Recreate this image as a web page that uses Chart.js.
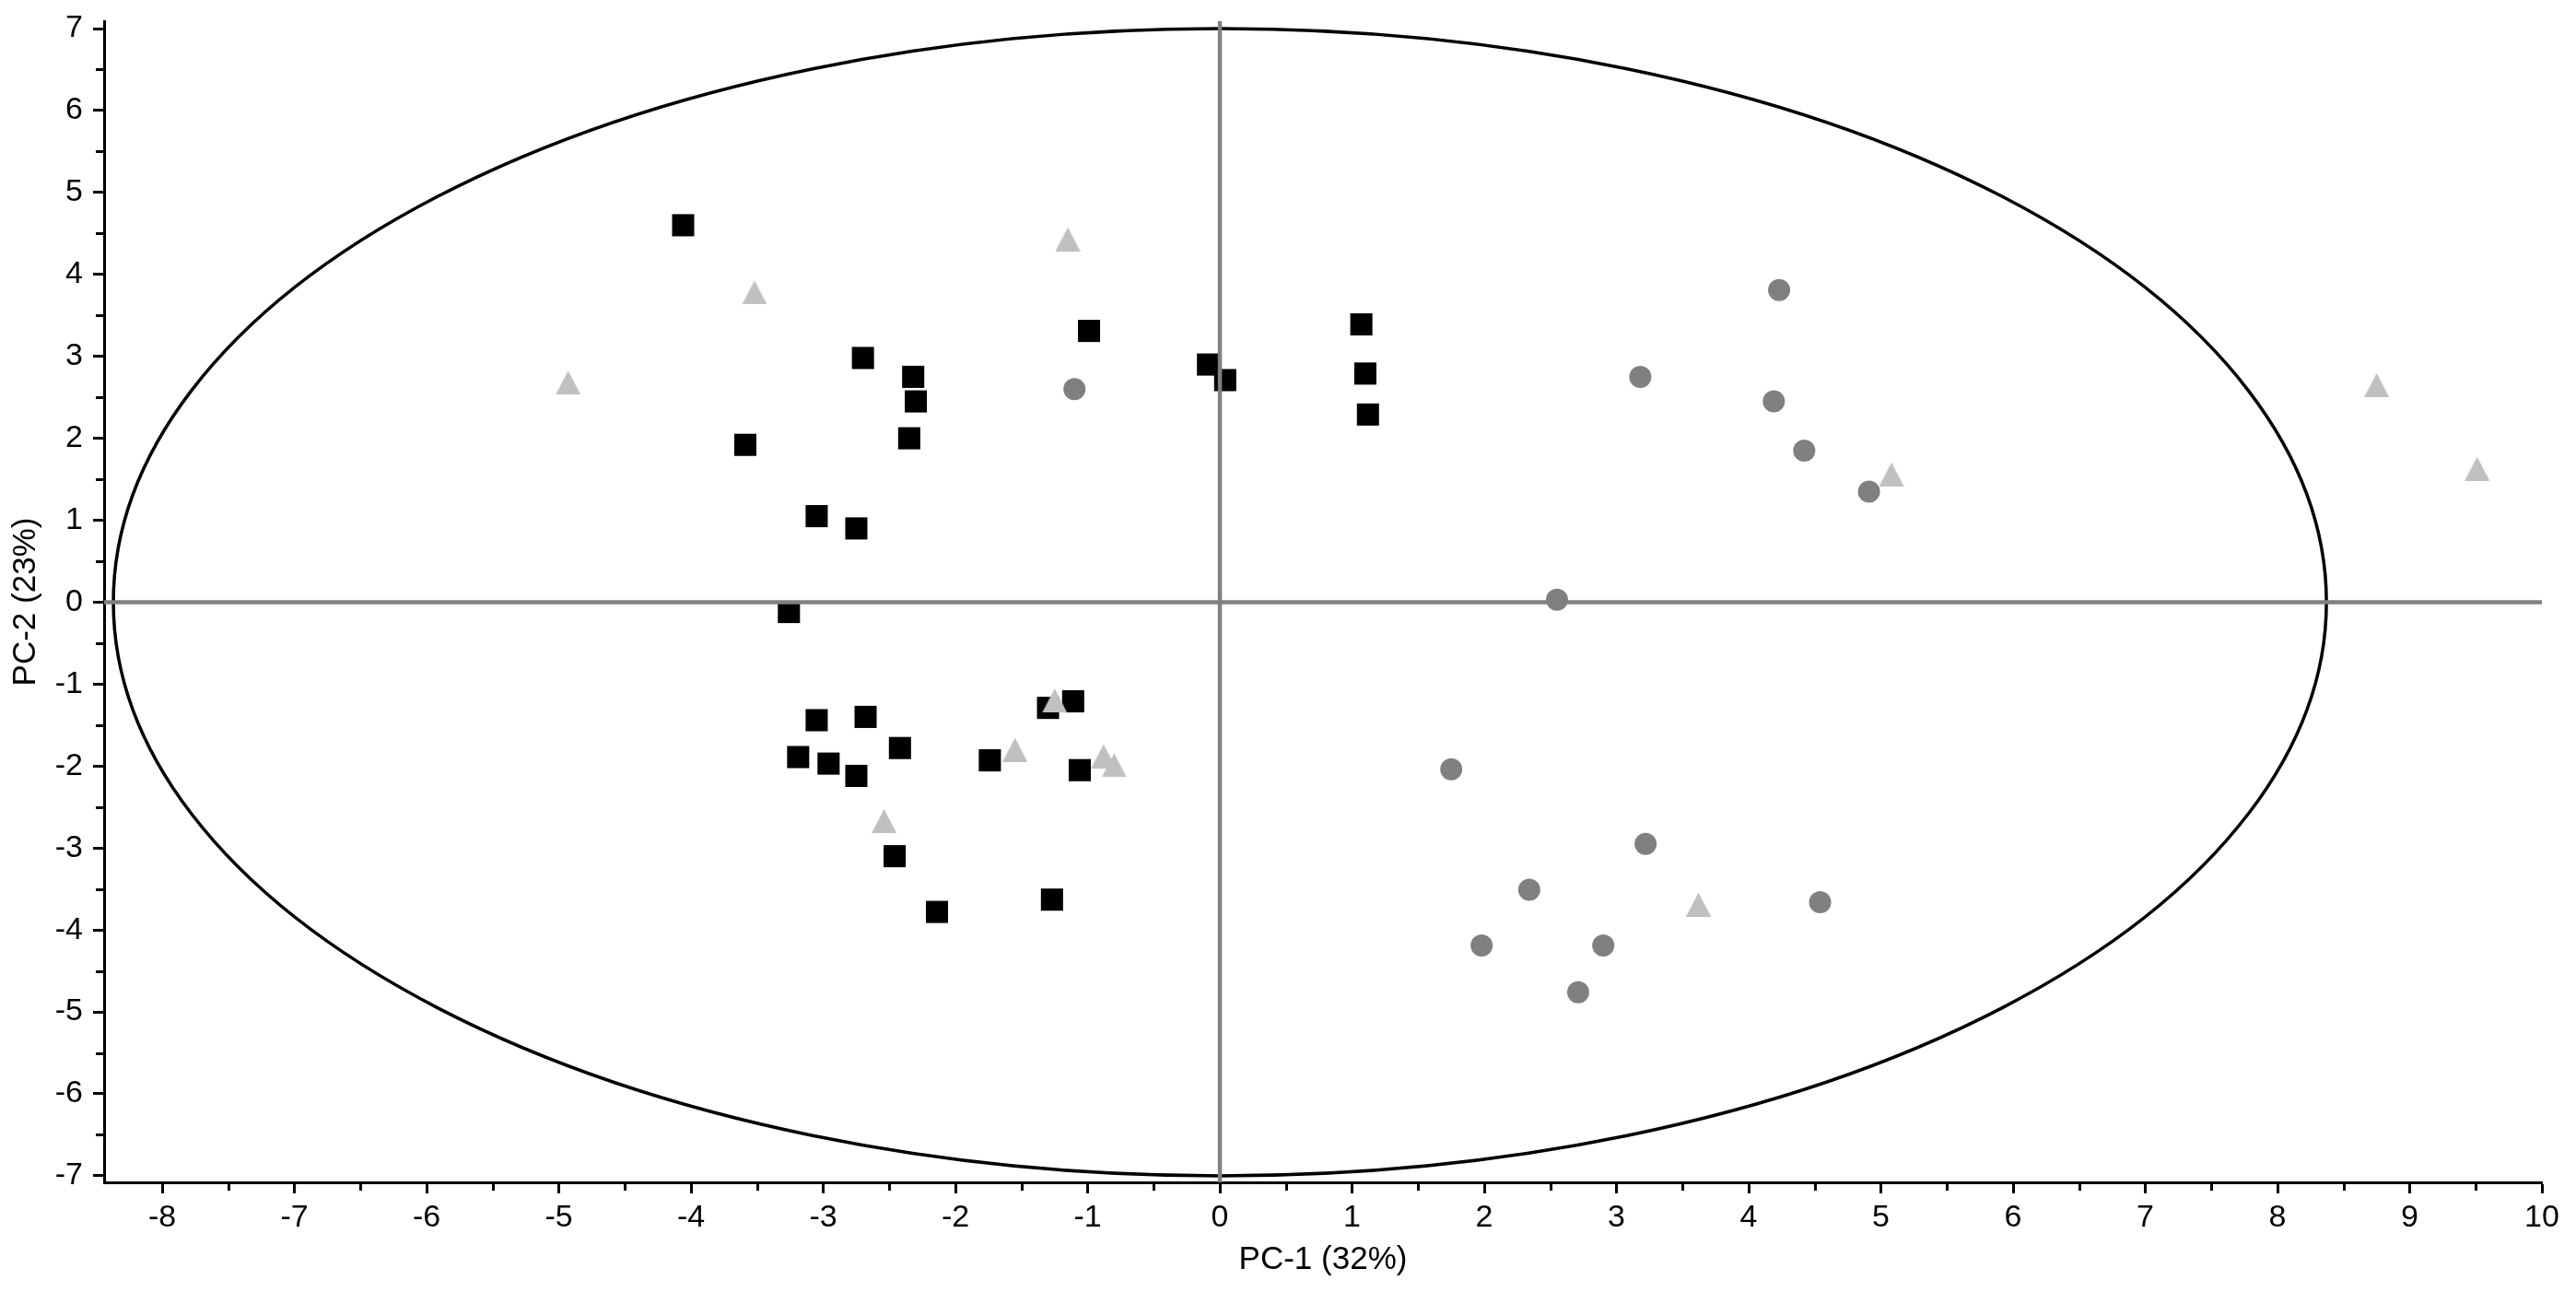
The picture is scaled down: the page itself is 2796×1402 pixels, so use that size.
<!DOCTYPE html>
<html>
<head>
<meta charset="utf-8">
<script src="https://cdn.jsdelivr.net/npm/chart.js@4.4.1/dist/chart.umd.min.js"></script>
<style>
  html, body { margin: 0; padding: 0; background: #fff; }
  #pcaChart { display: block; }
</style>
</head>
<body>
<canvas id="pcaChart" width="2796" height="1402"></canvas>
<script>
// PCA scores
const squareX = [-4.06, -3.59, -3.05, -2.70, -2.75, -2.32, -2.30, -2.35, -0.99, -0.09, 0.04, 1.07, 1.10, 1.12,
                 -3.26, -3.05, -2.68, -3.19, -2.96, -2.75, -2.42, -2.46, -2.14, -1.74, -1.30, -1.11, -1.06, -1.27];
const squareY = [4.60, 1.92, 1.05, 2.98, 0.90, 2.75, 2.45, 2.00, 3.31, 2.90, 2.71, 3.39, 2.79, 2.29,
                 -0.12, -1.44, -1.40, -1.89, -1.97, -2.12, -1.78, -3.10, -3.78, -1.93, -1.29, -1.21, -2.05, -3.63];

const circleX = [-1.10, 3.18, 4.23, 4.19, 4.42, 4.91, 2.55, 1.75, 3.22, 2.34, 1.98, 2.90, 2.71, 4.54];
const circleY = [2.60, 2.75, 3.81, 2.45, 1.85, 1.35, 0.03, -2.04, -2.95, -3.51, -4.19, -4.19, -4.76, -3.66];

const triangleX = [-4.93, -3.52, -1.15, 8.75, 9.51, 5.08, -1.25, -1.55, -0.88, -0.80, -2.54, 3.62];
const triangleY = [2.68, 3.78, 4.43, 2.65, 1.63, 1.56, -1.20, -1.80, -1.88, -1.99, -2.67, -3.69];

const xTitle = "PC-1 (32%)";
const yTitle = "PC-2 (23%)";
const xMin = -8.44, xMax = 10;
const yMin = -7.08, yMax = 7.09;

// Hotelling T2 ellipse, semi axes
const ellipseA = 8.37;
const ellipseB = 7.0;

const fontFamily = "'Liberation Sans', Arial, sans-serif";

function toPoints(xs, ys) {
  return xs.map((x, i) => ({x: x, y: ys[i]}));
}

function triangleMarker() {
  const c = document.createElement("canvas");
  c.width = 27;
  c.height = 26;
  const g = c.getContext("2d");
  g.fillStyle = "#c0c0c0";
  g.beginPath();
  g.moveTo(13.5, 0);
  g.lineTo(27, 26);
  g.lineTo(0, 26);
  g.closePath();
  g.fill();
  return c;
}

// ellipse, zero lines and minor ticks
const extras = {
  id: "extras",
  afterDatasetsDraw(chart) {
    const {ctx, chartArea, scales: {x, y}} = chart;
    const cx = x.getPixelForValue(0), cy = y.getPixelForValue(0);
    ctx.save();
    ctx.strokeStyle = "#000";
    ctx.lineWidth = 3.5;
    ctx.beginPath();
    ctx.ellipse(cx, cy, x.getPixelForValue(ellipseA) - cx, cy - y.getPixelForValue(ellipseB), 0, 0, Math.PI * 2);
    ctx.stroke();

    ctx.strokeStyle = "#808080";
    ctx.lineWidth = 4.5;
    ctx.beginPath();
    ctx.moveTo(chartArea.left, cy);
    ctx.lineTo(chartArea.right, cy);
    ctx.moveTo(cx, chartArea.top);
    ctx.lineTo(cx, chartArea.bottom);
    ctx.stroke();
    ctx.restore();
  },
  afterDraw(chart) {
    const {ctx, chartArea, scales: {x, y}} = chart;
    ctx.save();
    ctx.strokeStyle = "#000";
    ctx.lineWidth = 3;
    ctx.beginPath();
    for (let v = Math.floor(xMin) + 0.5; v < xMax; v += 1) {
      if (v < xMin) continue;
      const px = Math.round(x.getPixelForValue(v)) + 0.5;
      ctx.moveTo(px, chartArea.bottom);
      ctx.lineTo(px, chartArea.bottom + 9);
    }
    for (let v = Math.floor(yMin) + 0.5; v < yMax; v += 1) {
      if (v < yMin) continue;
      const py = Math.round(y.getPixelForValue(v)) + 0.5;
      ctx.moveTo(chartArea.left, py);
      ctx.lineTo(chartArea.left - 9, py);
    }
    ctx.stroke();
    ctx.restore();
  }
};

const tickFont = {family: fontFamily, size: 34};
const titleFont = {family: fontFamily, size: 35};

new Chart(document.getElementById("pcaChart"), {
  type: "scatter",
  data: {
    datasets: [
      {
        data: toPoints(circleX, circleY),
        pointStyle: "circle",
        pointRadius: 12,
        backgroundColor: "#808080",
        borderWidth: 0
      },
      {
        data: toPoints(triangleX, triangleY),
        pointStyle: triangleMarker(),
        pointRadius: 13,
        backgroundColor: "#c0c0c0",
        borderWidth: 0
      },
      {
        data: toPoints(squareX, squareY),
        pointStyle: "rect",
        pointRadius: 17,
        backgroundColor: "#000",
        borderWidth: 0
      }
    ]
  },
  options: {
    responsive: false,
    animation: false,
    devicePixelRatio: 1,
    layout: {padding: {top: 23, right: 37, bottom: 0, left: 0}},
    plugins: {
      legend: {display: false},
      tooltip: {enabled: false}
    },
    scales: {
      x: {
        type: "linear",
        min: xMin,
        max: xMax,
        afterFit: s => { s.height = 119; s.paddingLeft = 0; s.paddingRight = 0; },
        ticks: {
          stepSize: 1, includeBounds: false, padding: 6, color: "#000",
          font: tickFont, maxRotation: 0, autoSkip: false,
          callback: v => String(v)
        },
        grid: {drawOnChartArea: false, drawTicks: true, tickLength: 12, tickWidth: 3, tickColor: "#000"},
        border: {display: true, color: "#000", width: 3},
        title: {display: true, text: xTitle, color: "#000", font: titleFont, padding: {top: 0, bottom: 14}}
      },
      y: {
        type: "linear",
        min: yMin,
        max: yMax,
        afterFit: s => { s.width = 113; s.paddingTop = 0; s.paddingBottom = 0; },
        ticks: {
          stepSize: 1, includeBounds: false, padding: 11, color: "#000",
          font: tickFont, autoSkip: false,
          callback: v => String(v)
        },
        grid: {drawOnChartArea: false, drawTicks: true, tickLength: 12, tickWidth: 3, tickColor: "#000"},
        border: {display: true, color: "#000", width: 3},
        title: {display: true, text: yTitle, color: "#000", font: titleFont, padding: {top: 7, bottom: 0}}
      }
    }
  },
  plugins: [extras]
});
</script>
</body>
</html>
